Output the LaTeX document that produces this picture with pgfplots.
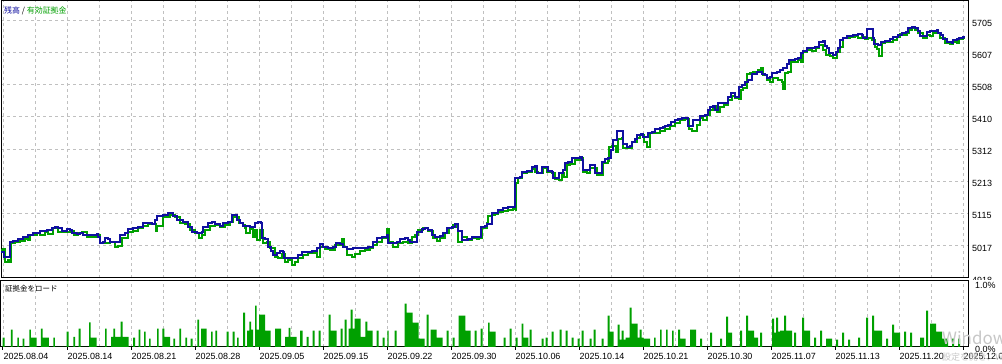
\documentclass[border=0pt]{standalone}
\usepackage{pgfplots}
\pgfplotsset{compat=1.18}
\usepackage{fontspec}
\setmainfont{Liberation Sans}
\newfontfamily\jp{Noto Sans CJK JP}
\definecolor{bal}{RGB}{16,16,160}
\definecolor{eq}{RGB}{0,160,0}
\definecolor{gridc}{RGB}{192,192,192}
\pgfplotsset{
  mt/.style={
    scale only axis, width=967bp, xmin=1, xmax=968,
    axis line style={line width=1bp, black},
    tick label style={font=\fontsize{9}{10}\selectfont},
    xtick={3,67,...,963},
    minor xtick={35,99,...,931},
    xmajorgrids, xminorgrids,
    grid style={gridc, line width=0.8bp, dash pattern=on 3bp off 3bp},
    minor grid style={gridc, line width=0.8bp, dash pattern=on 3bp off 3bp},
    yticklabel pos=right,
    yticklabel style={anchor=west, inner sep=0pt, xshift=4bp, yshift=-2.6bp},
    ytick style={draw=none},
  }
}
\begin{document}
\begin{tikzpicture}
\useasboundingbox (0,0) rectangle (1002bp,364bp);
\fill[white] (0,0) rectangle (1002bp,364bp);
\begin{axis}[mt, at={(1bp,86bp)}, anchor=south west, height=277bp,
  ymin=4916.5, ymax=5764.4,
  ytick={4918,5016.4,5114.8,5213.1,5311.5,5409.9,5508.3,5606.6,5705},
  yticklabels={4918,5017,5115,5213,5312,5410,5508,5607,5705},
  ymajorgrids, xticklabels={}, major tick length=0pt, minor tick length=0pt]
\addplot[eq, line width=2bp, const plot] coordinates {
(1,5002)(3.3,5004)(5,4966)(8.3,4972)(10,4966)(10.7,5023)(15,5028)(20,5031)(25,5035)(28.3,5033)(30,5048)(36.7,5053)(40,5048)(45,5056)(48.3,5051)(53.3,5069)(58.3,5058)(71.7,5061)(74,5048)(78.3,5053)(81.7,5056)(86.7,5041)(96.7,5048)(100,5023)(110,5028)(115,5010)(118.3,5014)(121.7,5038)(128.3,5058)(133.3,5061)(138.3,5069)(143.3,5076)(148.3,5082)(155.7,5060)(157.3,5076)(163.3,5104)(170,5109)(175,5104)(180,5086)(185,5082)(190,5063)(195,5053)(199.3,5038)(201.7,5048)(205,5063)(210,5076)(215,5079)(220,5074)(225,5079)(230,5089)(233.3,5104)(239.3,5084)(242.7,5079)(245,5069)(246,5053)(250,5066)(252.7,5041)(255,5063)(257.3,5033)(260,5063)(263.3,5023)(266.7,5028)(270,5007)(275,4982)(278.3,4977)(281.7,4990)(285,4966)(288.3,4972)(291.7,4956)(295,4966)(298.3,4977)(303.3,4987)(308.3,4992)(313.3,4994)(317.3,4982)(320,5012)(325,5004)(330,5002)(335,5017)(341.7,5035)(344,5012)(347.3,4987)(351.7,4982)(355,4990)(360,5000)(365,5002)(370,5007)(373.3,5017)(376.7,5028)(381.7,5038)(386.7,5066)(389.3,5028)(393.3,5010)(398.3,5023)(403.3,5028)(408.3,5025)(411.7,5043)(415,5048)(418.3,5063)(423.3,5069)(428.3,5061)(433.3,5038)(436.7,5031)(440,5038)(445,5053)(449.3,5069)(453.3,5079)(456,5074)(458.3,5028)(461.7,5043)(466.7,5033)(471.7,5038)(476.7,5035)(479.3,5038)(481.7,5069)(486.7,5084)(488.3,5106)(491.7,5109)(495,5112)(498.3,5119)(503.3,5122)(508.3,5126)(513.3,5128)(515.7,5125)(516.3,5206)(518.3,5222)(521.7,5237)(526.7,5242)(531.7,5249)(535,5242)(538.3,5237)(543.3,5252)(546.7,5242)(551.7,5239)(555,5219)(559,5216)(561.7,5237)(564.3,5226)(566.7,5262)(570,5265)(575,5278)(580,5283)(583.3,5242)(586.7,5239)(590,5252)(596.7,5232)(603.3,5268)(607.7,5276)(609,5318)(612.3,5320)(615.7,5303)(618.3,5341)(621.7,5344)(623.3,5314)(631.7,5334)(636.7,5344)(640,5354)(644.3,5334)(647.3,5318)(650,5359)(655,5361)(660,5367)(665,5372)(670,5382)(675,5392)(680,5400)(685,5402)(689,5372)(692.3,5367)(696.7,5385)(700,5405)(703.3,5400)(706.7,5415)(710,5431)(713.3,5443)(716.7,5426)(720,5441)(724.3,5446)(727.7,5461)(731.7,5474)(735,5467)(739,5463)(741,5492)(743.3,5499)(746.7,5540)(750,5543)(753.3,5546)(758.3,5553)(760.7,5558)(763.3,5538)(766.7,5523)(770,5517)(773.3,5528)(778.3,5523)(781.7,5517)(783.3,5495)(785,5543)(788.3,5548)(790.7,5577)(795,5579)(798.3,5584)(800.7,5577)(802.7,5609)(807.3,5614)(811.7,5611)(816,5620)(819.3,5630)(823.3,5614)(826,5599)(830,5597)(833.3,5591)(836.7,5609)(840,5624)(842.7,5650)(846.7,5652)(850,5655)(855,5658)(858.3,5652)(861.7,5655)(865,5648)(868.3,5650)(871.7,5645)(875,5624)(877.3,5617)(879.3,5597)(881.7,5635)(885,5638)(889.3,5640)(892.7,5645)(896.7,5655)(900,5662)(903.3,5660)(906.7,5665)(909.3,5676)(911.7,5681)(915,5676)(918.3,5665)(922.7,5650)(926.7,5660)(930,5658)(933.3,5665)(940,5652)(945,5635)(950,5632)(953.3,5640)(956.7,5635)(959.3,5648)(963.3,5652)(964.5,5652)
};
\addplot[bal, line width=2bp, const plot] coordinates {
(1,4997)(4,4982)(10,5028)(13.3,5031)(18.3,5035)(23.3,5041)(28.3,5049)(33.3,5055)(40,5059)(46.7,5063)(51.7,5070)(55,5074)(58.3,5070)(61.7,5061)(66.7,5066)(70,5063)(71.7,5053)(76.7,5051)(80,5055)(83.3,5048)(90,5049)(96.7,5051)(98.3,5043)(100,5025)(103.3,5028)(105,5038)(108.3,5035)(110,5028)(120,5048)(125,5053)(128.3,5066)(133.3,5069)(138.3,5074)(143.3,5084)(146.7,5086)(151.7,5082)(155,5094)(156.7,5106)(163.3,5109)(168.3,5115)(171.7,5116)(173.3,5106)(176.7,5094)(183.3,5089)(188.3,5074)(191.7,5058)(196.7,5055)(201.7,5058)(203.3,5072)(208.3,5084)(211.7,5089)(215,5082)(220,5076)(223.3,5084)(228.3,5089)(231.7,5109)(237.3,5094)(240,5084)(243.3,5077)(250,5074)(255,5084)(258.3,5089)(260.7,5086)(261.7,5038)(265,5035)(268.3,5012)(271,5000)(273.3,4987)(276.7,4992)(280,5000)(282.7,4997)(284.3,4979)(298.3,4987)(301.7,4995)(306.7,4997)(311.7,5000)(316.7,5007)(320,5021)(323.3,5010)(328.3,5007)(333.3,5010)(335.7,5023)(340,5021)(343.3,5012)(346.7,5004)(353.3,5007)(360,5009)(368.3,5012)(373.3,5028)(376.7,5038)(381.7,5043)(386.7,5048)(388.3,5025)(396.7,5028)(400,5035)(405,5038)(408.3,5033)(410,5028)(416.7,5058)(421.7,5066)(425,5069)(428.3,5063)(431.7,5048)(435,5041)(440,5045)(443.3,5053)(446.7,5069)(451.7,5074)(455,5082)(458.3,5060)(461.7,5033)(468.3,5035)(471.7,5041)(479.3,5043)(480.7,5074)(485,5076)(487.3,5082)(491.7,5115)(495,5116)(498.3,5125)(503.3,5130)(508.3,5133)(513.3,5135)(515,5222)(520,5226)(521.7,5242)(526.7,5245)(531.7,5257)(535,5259)(536.7,5239)(542.3,5255)(547.7,5244)(551.7,5242)(553.3,5224)(557.7,5222)(559,5239)(563.3,5247)(565,5268)(568.3,5272)(571.7,5283)(580,5286)(581.7,5278)(582.7,5247)(590,5262)(595,5237)(601.7,5272)(605,5280)(608.3,5283)(611,5308)(613.3,5339)(616.7,5367)(623.3,5327)(626.7,5318)(630,5320)(631.7,5334)(635,5342)(636.7,5354)(641,5357)(643.3,5347)(647.7,5361)(651.7,5364)(655,5372)(660,5375)(663.3,5378)(665,5382)(668.3,5385)(670.7,5395)(675,5400)(678.3,5402)(682,5405)(688.3,5382)(693.3,5400)(700,5412)(705,5415)(707.7,5431)(710,5441)(713.3,5443)(715,5431)(718.3,5451)(725,5453)(727.7,5470)(731,5482)(733.3,5484)(735,5470)(739,5502)(741.7,5507)(745,5517)(748.3,5523)(751.7,5540)(756.7,5546)(760,5548)(761.7,5540)(765,5538)(767.3,5528)(770,5533)(771.7,5543)(776.7,5548)(780,5553)(783.3,5558)(786.7,5571)(789.3,5584)(795,5586)(798.3,5589)(800.7,5604)(802.7,5611)(807.3,5620)(815,5624)(819.3,5640)(822.7,5642)(825,5628)(827.3,5620)(829.3,5604)(833.3,5599)(836,5607)(838.3,5620)(840,5645)(843.3,5650)(847.3,5658)(853.3,5660)(858.3,5662)(861.7,5660)(863.3,5652)(867.3,5679)(872.7,5650)(874,5632)(878.3,5630)(880.7,5638)(885,5642)(890,5648)(893.3,5655)(898.3,5660)(901.7,5665)(906,5668)(908.3,5681)(911.7,5686)(915,5681)(918.3,5672)(920,5658)(926.7,5668)(930,5673)(936.7,5676)(938.3,5665)(940.7,5660)(943.3,5648)(946.7,5640)(951.7,5635)(953.3,5645)(956.7,5648)(959.3,5652)(963.3,5653)(964.5,5653)
};
\end{axis}
\fill[white] (968.6bp,0) rectangle (1002bp,83.5bp);
\begin{axis}[mt, at={(1bp,17bp)}, anchor=south west, height=66bp,
  ymin=0, ymax=1.031, ytick={0,1}, yticklabels={0.0\%,1.0\%},
  xticklabels={2025.08.04,2025.08.14,2025.08.21,2025.08.28,2025.09.05,2025.09.15,2025.09.22,2025.09.30,2025.10.06,2025.10.14,2025.10.21,2025.10.30,2025.11.07,2025.11.13,2025.11.20,2025.12.01},
  xticklabel style={anchor=north west, inner sep=0pt, xshift=0.4bp, yshift=-3.5bp},
  xtick pos=left, tick align=outside, major tick length=3bp, minor tick length=0pt,
  xtick style={line width=1bp, black}]
\addplot[fill=eq, draw=none, const plot] coordinates {
(2.7,0.145)(4.7,0)(11,0.27)(12.7,0)(17.3,0.145)(19,0)(22.7,0.13)(24.3,0)(29.3,0.27)(31,0.145)(36.7,0)(41,0.286)(42.7,0.145)(49,0)(53.3,0.145)(55,0)(66.7,0.24)(68.7,0)(73.3,0.16)(75,0)(78.7,0.286)(80.7,0)(89,0.386)(90.7,0.145)(96.7,0)(105,0.286)(106.7,0)(111,0.16)(113.3,0.286)(115,0.16)(120.7,0.395)(122.7,0.16)(128.7,0)(133,0.145)(135,0)(138.7,0.27)(140.3,0)(144,0.24)(145.7,0)(149,0.13)(150.7,0)(157,0.286)(158.7,0)(162.3,0.286)(164.3,0.16)(170,0)(173.3,0.13)(175,0)(179.3,0.286)(181,0)(185.3,0.145)(187,0)(190.7,0.13)(192.7,0)(197.3,0.427)(199,0)(201,0.286)(206.7,0)(211,0.24)(212.7,0)(215.3,0.255)(217,0)(226.7,0.24)(228.7,0)(232.7,0.24)(234.7,0)(237,0.145)(238.7,0)(243,0.536)(245,0)(247,0.255)(249.3,0.395)(251,0.27)(253,0)(255,0.645)(256.7,0.27)(259,0.505)(265,0.255)(270.7,0)(275,0.286)(281,0)(285,0.16)(288.3,0)(288.7,0.30)(290.3,0.16)(296.7,0)
(300,0.255)(302.7,0)(306.7,0.16)(308.7,0)(312.7,0.255)(314.7,0)(318.7,0.255)(320.7,0)(328.7,0.505)(330.7,0.255)(336.7,0)(340.7,0.286)(342.7,0)(344.7,0.427)(346.7,0)(348.7,0.286)(350.7,0.583)(352.7,0.286)(354.7,0.442)(360.7,0.16)(365.3,0.395)(367.3,0.255)(372.7,0)(376.7,0.255)(378.7,0)(382.7,0.145)(384.7,0)(387.3,0.255)(388.7,0)(394.7,0.255)(396.7,0)(404.7,0.677)(406.7,0.536)(412.7,0.38)(418.7,0.13)(424.7,0)(426.7,0.505)(428.7,0)(430.7,0.27)(436.7,0.145)(442.7,0)(446.7,0.255)(448.7,0)(452.7,0.145)(454.7,0)(458.7,0.49)(465.3,0.255)(470.7,0)(474.7,0.255)(476.7,0)(480.7,0.286)(482.7,0)(488,0.38)(489.7,0.24)(495.7,0)(503.7,0.145)(505.7,0)(509.7,0.286)(511.7,0)(515.7,0.145)(517.7,0)(521.7,0.364)(523.3,0.145)(528.3,0)(529.7,0.27)(531.7,0)(541.7,0.13)(543.7,0)(545.7,0.145)(547.7,0)(551.7,0.24)(553.7,0)(559.7,0.27)(561.7,0)(565.7,0.255)(567.7,0)(571.7,0.145)(573.7,0)(577.7,0.13)(579.7,0)(581.7,0.255)(583.7,0)(589.7,0.13)(591.7,0)(593.7,0.27)(595.7,0)(601.7,0.13)(603.7,0)(607.7,0.49)(609.7,0.24)(613.7,0)(617.7,0.35)(619.7,0.114)(621.7,0.255)(623.7,0.114)(625.7,0.145)(629.7,0.614)(631.7,0.364)(637.7,0.145)(639.7,0.27)(641.7,0.145)(643.7,0.13)(650,0)
(654,0.145)(655.7,0)(660,0.27)(661.7,0)(666,0.27)(667.7,0)(672,0.255)(673.7,0)(678,0.27)(680,0.13)(685.7,0)(690,0.27)(696,0)(700,0.13)(702,0)(710,0.223)(712,0)(720,0.13)(722,0)(726,0.473)(728,0.223)(732,0)(740,0.255)(742,0)(746,0.49)(748,0.255)(754,0.145)(758,0)(760,0.223)(762,0)(772,0.442)(774,0.223)(776,0.458)(778,0.24)(780,0.255)(784,0.49)(786,0.255)(792,0)(794,0.223)(796,0)(802,0.458)(804,0.255)(810,0)(814,0.145)(816,0)(820,0.255)(822,0)(826,0.13)(832,0)(836,0.114)(838,0)(842,0.223)(844,0)(848,0.114)(850,0)(858,0.145)(860,0)(866,0.458)(868,0)(872,0.49)(874,0.255)(882,0)(886,0.13)(888,0)(892,0.35)(894,0.223)(900,0)(904,0.24)(906,0)(910,0.223)(912,0)(920,0.145)(924,0)(926,0.567)(928,0)(930,0.364)(936,0.24)(942,0.13)(948,0)(952,0.13)(954,0)(958,0.13)(960,0)
} \closedcycle;
\end{axis}
\node[anchor=west, inner sep=0pt, font=\jp\fontsize{8}{9}\selectfont] at (4bp,353bp) {\textcolor{bal}{残高} / \textcolor{eq}{有効証拠金}};
\node[anchor=west, inner sep=0pt, font=\jp\fontsize{7.5}{9}\selectfont] at (5bp,75bp) {証拠金をロード};
\node[anchor=west, inner sep=0pt, text=black!22, font=\jp\fontsize{17}{18}\selectfont] at (942bp,26bp) {Windows ライセンス認証};
\node[anchor=west, inner sep=0pt, text=black!22, font=\jp\fontsize{9}{10}\selectfont] at (942bp,7bp) {設定を開き、Windows をライセンス認証してください。};
\end{tikzpicture}
\end{document}
